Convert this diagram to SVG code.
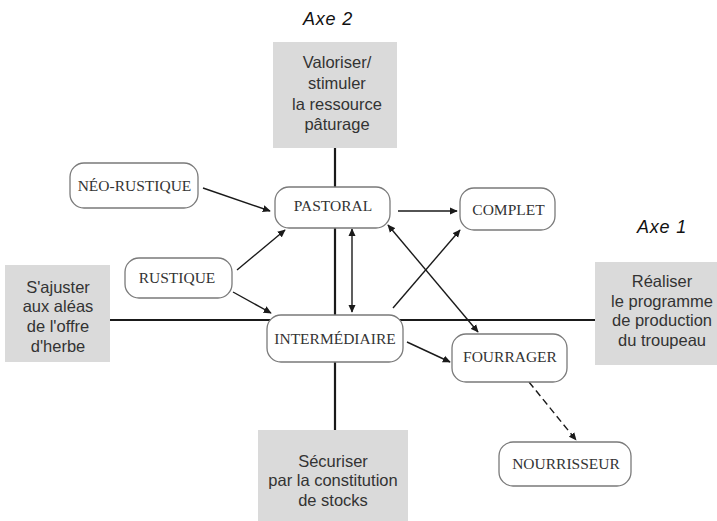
<svg xmlns="http://www.w3.org/2000/svg" width="717" height="521" viewBox="0 0 717 521">
  <defs>
    <marker id="arrow" viewBox="0 0 10 10" refX="9" refY="5" markerWidth="8" markerHeight="8" markerUnits="userSpaceOnUse" orient="auto-start-reverse">
      <path d="M0,0.5 L10,5 L0,9.5 z" fill="#1a1a1a"/>
    </marker>
    <style>
      .axis { stroke: #1a1a1a; stroke-width: 2.2; fill: none; }
      .goal rect { fill: #dadada; stroke: none; }
      .goal text { font-family: "Liberation Sans", Arial, sans-serif; font-size: 16.5px; fill: #333; text-anchor: middle; }
      .axe { font-family: "Liberation Sans", Arial, sans-serif; font-size: 18px; font-style: italic; letter-spacing: 0.8px; fill: #111; }
      .node rect { fill: #fff; stroke: #7a7a7a; stroke-width: 1.3; }
      .node text { font-family: "Liberation Serif", "Times New Roman", serif; font-size: 15.5px; fill: #333; text-anchor: middle; }
      .link { stroke: #1a1a1a; stroke-width: 1.4; fill: none; marker-end: url(#arrow); }
      .both { marker-start: url(#arrow); }
      .dash { stroke-dasharray: 7 4; }
    </style>
  </defs>

  <rect width="717" height="521" fill="#fff"/>

  <!-- axes -->
  <g id="axes">
    <line class="axis" x1="335" y1="148" x2="335" y2="430"/>
    <line class="axis" x1="110" y1="320" x2="595" y2="320"/>
    <text class="axe" x="328" y="25" text-anchor="middle">Axe 2</text>
    <text class="axe" x="662" y="233" text-anchor="middle">Axe 1</text>
  </g>

  <!-- goal boxes at the axis ends -->
  <g id="goal-top" class="goal">
    <rect x="273" y="42" width="124" height="106"/>
    <text x="337" y="68">Valoriser/</text>
    <text x="337" y="89">stimuler</text>
    <text x="337" y="110">la ressource</text>
    <text x="337" y="130">pâturage</text>
  </g>
  <g id="goal-left" class="goal">
    <rect x="5" y="265" width="105" height="97"/>
    <text x="58" y="293">S'ajuster</text>
    <text x="58" y="312">aux aléas</text>
    <text x="58" y="332">de l'offre</text>
    <text x="58" y="352">d'herbe</text>
  </g>
  <g id="goal-right" class="goal">
    <rect x="595" y="262" width="122" height="103"/>
    <text x="662" y="287">Réaliser</text>
    <text x="662" y="306.5">le programme</text>
    <text x="662" y="326">de production</text>
    <text x="662" y="345.5">du troupeau</text>
  </g>
  <g id="goal-bottom" class="goal">
    <rect x="258" y="430" width="150" height="91"/>
    <text x="333" y="467">Sécuriser</text>
    <text x="333" y="486">par la constitution</text>
    <text x="333" y="506">de stocks</text>
  </g>

  <!-- connectors -->
  <g id="connectors">
    <line class="link" x1="203" y1="188" x2="270" y2="211"/>
    <line class="link" x1="237" y1="270" x2="285" y2="230"/>
    <line class="link" x1="233" y1="292" x2="271" y2="313"/>
    <line class="link" x1="398" y1="211" x2="457" y2="211"/>
    <line class="link both" x1="352" y1="229" x2="352" y2="312"/>
    <line class="link" x1="393" y1="308" x2="460" y2="230"/>
    <line class="link both" x1="388" y1="225" x2="478" y2="332"/>
    <line class="link" x1="407" y1="342" x2="450" y2="362"/>
    <line class="link dash" x1="529" y1="382" x2="576" y2="440"/>
  </g>

  <!-- nodes -->
  <g id="neo-rustique" class="node">
    <rect x="70" y="163" width="128" height="45" rx="14"/>
    <text x="134.5" y="191">NÉO-RUSTIQUE</text>
  </g>
  <g id="rustique" class="node">
    <rect x="125" y="258" width="107" height="40" rx="14"/>
    <text x="177" y="283">RUSTIQUE</text>
  </g>
  <g id="pastoral" class="node">
    <rect x="275" y="187" width="115" height="41" rx="14"/>
    <text x="333" y="211">PASTORAL</text>
  </g>
  <g id="complet" class="node">
    <rect x="460" y="188" width="95" height="42" rx="14"/>
    <text x="508.5" y="215">COMPLET</text>
  </g>
  <g id="intermediaire" class="node">
    <rect x="267" y="315" width="136" height="47" rx="14"/>
    <text x="335" y="344">INTERMÉDIAIRE</text>
  </g>
  <g id="fourrager" class="node">
    <rect x="452" y="334" width="115" height="48" rx="14"/>
    <text x="510" y="362">FOURRAGER</text>
  </g>
  <g id="nourrisseur" class="node">
    <rect x="499" y="442" width="132" height="44" rx="14"/>
    <text x="566" y="469">NOURRISSEUR</text>
  </g>
</svg>
